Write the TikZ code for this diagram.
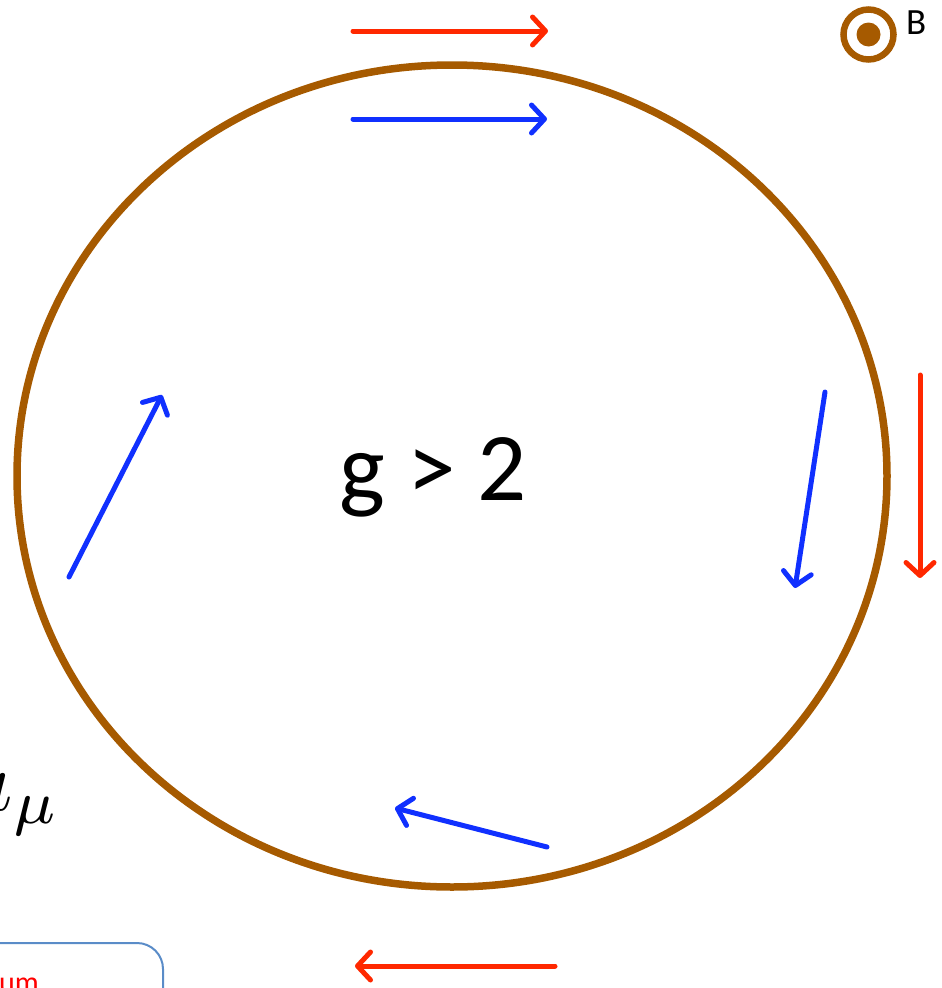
\documentclass[tikz,border=0pt]{standalone}
\usepackage{fontspec}
\setmainfont{Carlito}
\usetikzlibrary{arrows.meta,shapes.geometric}
\definecolor{ringbrown}{RGB}{166,90,0}
\definecolor{arrred}{RGB}{255,40,0}
\definecolor{arrblue}{RGB}{16,48,255}
\definecolor{boxblue}{RGB}{90,140,200}
\begin{document}
\begin{tikzpicture}[x=1pt,y=-1pt,
  vec/.style={line width=5pt, line cap=round,
    -{Straight Barb[length=13pt,width=28pt,round]}},
  spin/.style={vec, draw=arrblue},
  mom/.style={vec, draw=arrred}]
\useasboundingbox (0,0) rectangle (942,988);
% orbit
\node[draw=ringbrown, line width=7.5pt, ellipse, minimum width=870pt, minimum height=822pt, inner sep=0pt] (orbit) at (452,476) {};
% label
\node[anchor=base, inner sep=0pt, font=\fontsize{97}{100}\selectfont] (g) at (433,500) {g > 2};
% top title (clipped)
\node[anchor=base west, inner sep=0pt, font=\fontsize{43}{46}\selectfont\bfseries] (title) at (52,-8.5) {(Larmor precession only)};
% B field symbol
\node[draw=ringbrown, line width=6.5pt, circle, minimum size=50pt, inner sep=0pt] (bring) at (868.5,34.5) {};
\node[fill=ringbrown, circle, minimum size=24pt, inner sep=0pt] (bdot) at (bring.center) {};
\node[anchor=base west, inner sep=0pt, font=\fontsize{37}{40}\selectfont] (B) at (906,34) {B};
% a_mu
\node[anchor=base west, inner sep=0pt, scale=8.8] (amu) at (-35,810) {$a_\mu$};
% bottom-left box
\draw[boxblue, line width=2pt, rounded corners=26pt] (-40,943) -- (163,943) -- (163,1040);
\node[anchor=base east, inner sep=0pt, text=red, font=\fontsize{30}{32}\selectfont] (mom) at (39,992) {momentum};
% coordinates for arrows
\coordinate (r1s) at (353,31);  \coordinate (r1e) at (548,31);
\coordinate (b1s) at (353,119); \coordinate (b1e) at (547,119);
\coordinate (b2s) at (69,577);  \coordinate (b2e) at (162,395);
\coordinate (b3s) at (825,392); \coordinate (b3e) at (795,588);
\coordinate (b4s) at (547,847); \coordinate (b4e) at (395,808);
\coordinate (r2s) at (920,375); \coordinate (r2e) at (920,578);
\coordinate (r3s) at (555,966); \coordinate (r3e) at (355,966);
% arrows
\draw[mom] (r1s) -- (r1e);
\draw[spin] (b1s) -- (b1e);
\draw[spin] (b2s) -- (b2e);
\draw[spin] (b3s) -- (b3e);
\draw[spin] (b4s) -- (b4e);
\draw[mom] (r2s) -- (r2e);
\draw[mom] (r3s) -- (r3e);
\end{tikzpicture}
\end{document}
